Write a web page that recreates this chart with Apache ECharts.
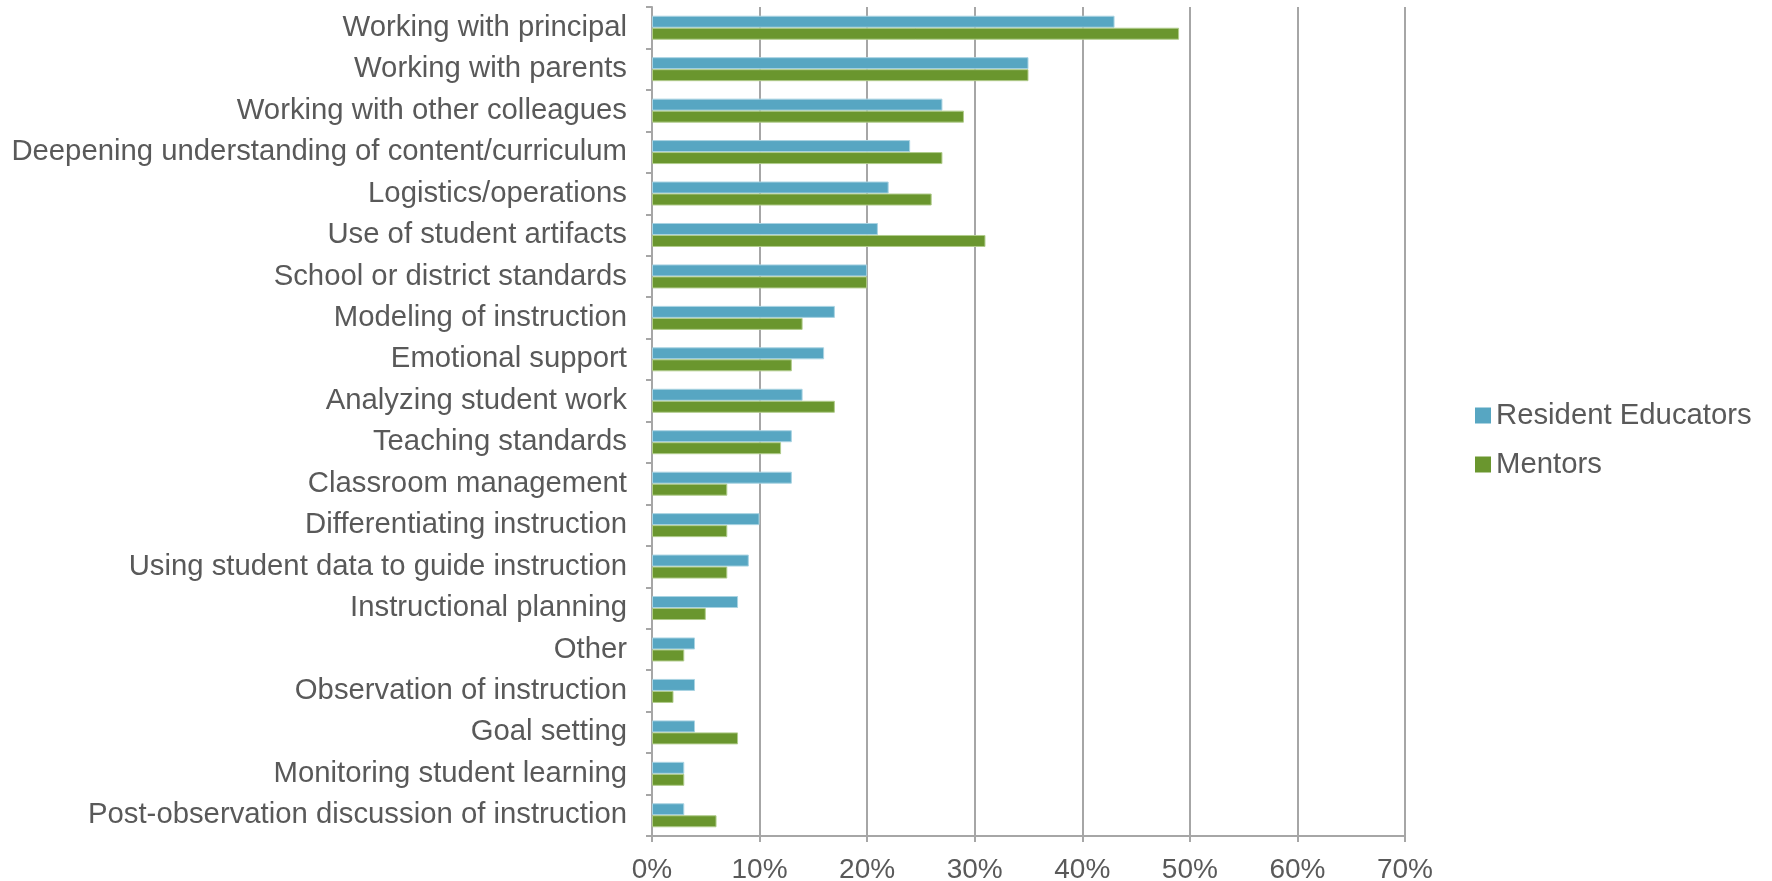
<!DOCTYPE html>
<html>
<head>
<meta charset="utf-8">
<script src="https://cdn.jsdelivr.net/npm/echarts@6/dist/echarts.min.js"></script>
<style>html,body{margin:0;padding:0;background:#fff;}#c{width:1772px;height:881px;}</style>
</head>
<body>
<div id="c"></div>
<script>
const categories = [
  "Working with principal",
  "Working with parents",
  "Working with other colleagues",
  "Deepening understanding of content/curriculum",
  "Logistics/operations",
  "Use of student artifacts",
  "School or district standards",
  "Modeling of instruction",
  "Emotional support",
  "Analyzing student work",
  "Teaching standards",
  "Classroom management",
  "Differentiating instruction",
  "Using student data to guide instruction",
  "Instructional planning",
  "Other",
  "Observation of instruction",
  "Goal setting",
  "Monitoring student learning",
  "Post-observation discussion of instruction"
];
const residentEducators = [43, 35, 27, 24, 22, 21, 20, 17, 16, 14, 13, 13, 10, 9, 8, 4, 4, 4, 3, 3];
const mentors = [49, 35, 29, 27, 26, 31, 20, 14, 13, 17, 12, 7, 7, 7, 5, 3, 2, 8, 3, 6];
const seriesNames = ["Resident Educators", "Mentors"];
const xTicks = [0, 10, 20, 30, 40, 50, 60, 70];

const font = "'Liberation Sans', Arial, sans-serif";
const textColor = "#595959";
const gridColor = "#a6a6a6";

const chart = echarts.init(document.getElementById('c'), null, {renderer: 'canvas'});
chart.setOption({
  backgroundColor: '#fff',
  animation: false,
  textStyle: {fontFamily: font},
  grid: {left: 652, right: 1772 - 1405, top: 7, bottom: 881 - 836, containLabel: false, outerBoundsMode: 'none'},
  legend: {
    orient: 'vertical',
    left: 1475,
    top: 401,
    padding: 0,
    itemWidth: 16,
    itemHeight: 16,
    itemGap: 20,
    icon: 'rect',
    itemStyle: {borderWidth: 0},
    textStyle: {fontFamily: font, fontSize: 29.3, color: textColor},
    data: seriesNames
  },
  xAxis: {
    type: 'value',
    min: xTicks[0],
    max: xTicks[xTicks.length - 1],
    interval: 10,
    axisLine: {show: true, lineStyle: {color: gridColor, width: 2}},
    axisTick: {show: true, length: 6, lineStyle: {color: gridColor, width: 2}},
    splitLine: {show: true, lineStyle: {color: gridColor, width: 2}},
    axisLabel: {
      color: textColor, fontSize: 28, fontFamily: font, margin: 20,
      formatter: v => v + '%'
    }
  },
  yAxis: {
    type: 'category',
    inverse: true,
    data: categories,
    axisLine: {show: true, lineStyle: {color: gridColor, width: 2}},
    axisTick: {show: true, length: 6, lineStyle: {color: gridColor, width: 2}},
    axisLabel: {color: textColor, fontSize: 29.3, fontFamily: font, margin: 25}
  },
  series: [
    {
      name: seriesNames[0], type: 'bar', data: residentEducators,
      barWidth: 12, barGap: '0%',
      itemStyle: {color: '#57a6c2', borderColor: '#a9d3e2', borderWidth: 1}
    },
    {
      name: seriesNames[1], type: 'bar', data: mentors,
      barWidth: 12, barGap: '0%',
      itemStyle: {color: '#6a962e', borderColor: '#b1cc8c', borderWidth: 1}
    }
  ]
});
</script>
</body>
</html>
